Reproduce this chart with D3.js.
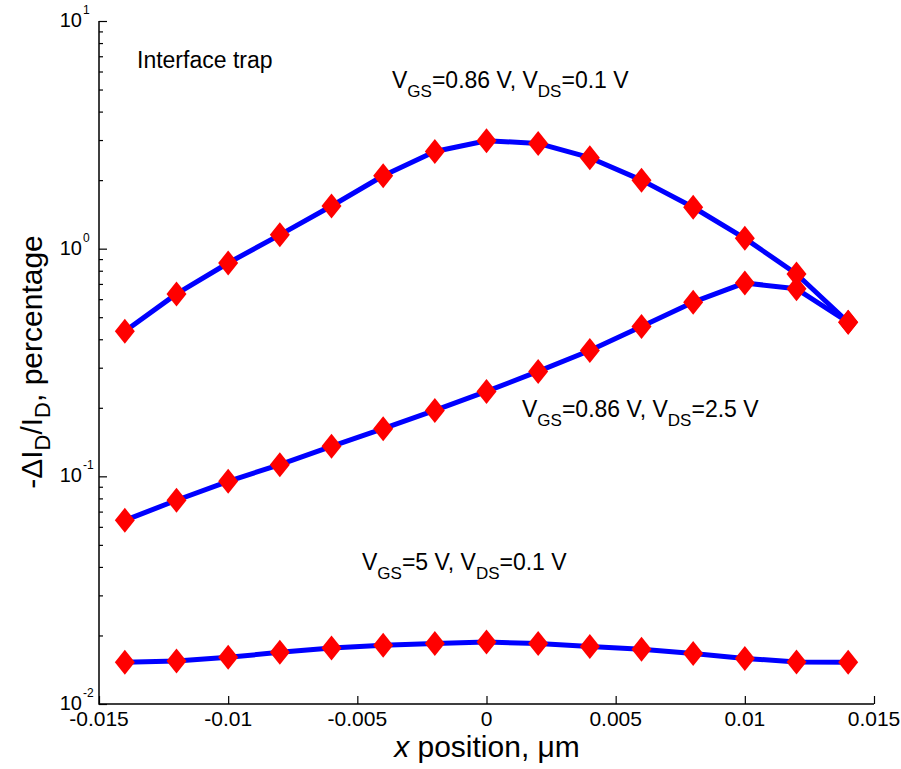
<!DOCTYPE html>
<html>
<head>
<meta charset="utf-8">
<script src="https://cdn.jsdelivr.net/npm/d3@7"></script>
<style>
  html, body { margin: 0; padding: 0; background: #fff; }
  svg { display: block; font-family: "Liberation Sans", Arial, sans-serif; }
</style>
</head>
<body>
<svg id="chart" width="901" height="769"></svg>
<script>
// Trap position along the channel (µm)
const xPositions = [-0.014, -0.012, -0.010, -0.008, -0.006, -0.004, -0.002, 0,
                    0.002, 0.004, 0.006, 0.008, 0.010, 0.012, 0.014];

// -ΔI_D/I_D in percent for each bias condition
const lowDrainLowGate = [0.434, 0.633, 0.865, 1.15, 1.54, 2.09, 2.67, 2.98,
                         2.90, 2.51, 2.00, 1.52, 1.11, 0.774, 0.475];
const highDrainLowGate = [0.0641, 0.0785, 0.0951, 0.1125, 0.1354, 0.162, 0.1948, 0.236,
                          0.289, 0.357, 0.455, 0.582, 0.707, 0.666, 0.475];
const lowDrainHighGate = [0.01524, 0.01545, 0.01603, 0.01686, 0.0176, 0.0181, 0.01846, 0.0187,
                          0.01846, 0.0179, 0.01738, 0.01668, 0.01586, 0.0153, 0.01524];

const xTicks = [-0.015, -0.01, -0.005, 0, 0.005, 0.01, 0.015];
const xTickLabels = ["-0.015", "-0.01", "-0.005", "0", "0.005", "0.01", "0.015"];
const yMajorTicks = [0.01, 0.1, 1, 10];
const yMajorExponents = ["-2", "-1", "0", "1"];

const seriesList = [lowDrainLowGate, highDrainLowGate, lowDrainHighGate];

const svg = d3.select("#chart");
const plotLeft = 99, plotRight = 874, plotTop = 21, plotBottom = 704;

const x = d3.scaleLinear().domain([-0.015, 0.015]).range([plotLeft, plotRight]);
const y = d3.scaleLog().domain([0.01, 10]).range([plotBottom, plotTop]);

// Minor log ticks 2..9 within each decade
const yMinorTicks = [];
for (let e = -2; e < 1; e++) {
  for (let m = 2; m <= 9; m++) yMinorTicks.push(m * Math.pow(10, e));
}

// Axes: ticks point into the plot
const yAxisMinor = d3.axisRight(y).tickValues(yMinorTicks).tickSize(4).tickFormat("");
const yAxisMajor = d3.axisRight(y).tickValues(yMajorTicks).tickSize(8).tickFormat("");
const gy1 = svg.append("g").attr("transform", `translate(${plotLeft},0)`).call(yAxisMinor);
const gy2 = svg.append("g").attr("transform", `translate(${plotLeft},0)`).call(yAxisMajor);
[gy1, gy2].forEach(g => {
  g.select(".domain").remove();
  g.selectAll("line").attr("stroke", "#000").attr("stroke-width", 1.2);
});

const xAxis = d3.axisTop(x).tickValues(xTicks).tickSize(8).tickFormat("");
const gx = svg.append("g").attr("transform", `translate(0,${plotBottom})`).call(xAxis);
gx.select(".domain").remove();
gx.selectAll("line").attr("stroke", "#000").attr("stroke-width", 1.2);

// Axis lines (left and bottom only)
svg.append("path")
  .attr("d", `M${plotLeft},${plotTop}V${plotBottom}H${plotRight}`)
  .attr("fill", "none").attr("stroke", "#000").attr("stroke-width", 1.5);

// x tick labels
svg.append("g").selectAll("text").data(xTicks).join("text")
  .attr("x", d => x(d)).attr("y", plotBottom + 22)
  .attr("text-anchor", "middle").attr("font-size", 21)
  .text((d, i) => xTickLabels[i]);

// y tick labels as powers of ten
const yl = svg.append("g").selectAll("g").data(yMajorTicks).join("g");
yl.append("text")
  .attr("x", plotLeft - 17).attr("y", d => y(d) + 6)
  .attr("text-anchor", "end").attr("font-size", 20)
  .text("10");
yl.append("text")
  .attr("x", plotLeft - 16).attr("y", d => y(d) - 7)
  .attr("text-anchor", "start").attr("font-size", 12)
  .text((d, i) => yMajorExponents[i]);

// Axis titles
const xt = svg.append("text")
  .attr("x", 487).attr("y", 757)
  .attr("text-anchor", "middle").attr("font-size", 30);
xt.append("tspan").attr("font-style", "italic").text("x");
xt.append("tspan").text(" position, \u03BCm");

const yt = svg.append("text")
  .attr("transform", "translate(42,362) rotate(-90)")
  .attr("text-anchor", "middle").attr("font-size", 30);
yt.append("tspan").text("-\u0394I");
yt.append("tspan").attr("font-size", 22).attr("dy", 8).text("D");
yt.append("tspan").attr("dy", -8).text("/I");
yt.append("tspan").attr("font-size", 22).attr("dy", 8).text("D");
yt.append("tspan").attr("dy", -8).text(", percentage");

// Curves
const line = d3.line()
  .x((d, i) => x(xPositions[i]))
  .y(d => y(d));

svg.append("g").selectAll("path").data(seriesList).join("path")
  .attr("d", d => line(d))
  .attr("fill", "none").attr("stroke", "#0000FF")
  .attr("stroke-width", 5).attr("stroke-linejoin", "round");

// Diamond markers
const diamond = "M0,-12.5L10,0L0,12.5L-10,0Z";
seriesList.forEach(series => {
  svg.append("g").selectAll("path").data(series).join("path")
    .attr("transform", (d, i) => `translate(${x(xPositions[i])},${y(d)})`)
    .attr("d", diamond)
    .attr("fill", "#FF0000");
});

// Annotations
svg.append("text").attr("x", 137).attr("y", 68).attr("font-size", 23).text("Interface trap");

function biasLabel(px, py, gs, ds) {
  const t = svg.append("text").attr("x", px).attr("y", py).attr("font-size", 23);
  t.append("tspan").text("V");
  t.append("tspan").attr("font-size", 17).attr("dy", 9).text("GS");
  t.append("tspan").attr("dy", -9).text(`=${gs} V, V`);
  t.append("tspan").attr("font-size", 17).attr("dy", 9).text("DS");
  t.append("tspan").attr("dy", -9).text(`=${ds} V`);
}
biasLabel(392, 88, "0.86", "0.1");
biasLabel(522, 417, "0.86", "2.5");
biasLabel(362, 570, "5", "0.1");
</script>
</body>
</html>
